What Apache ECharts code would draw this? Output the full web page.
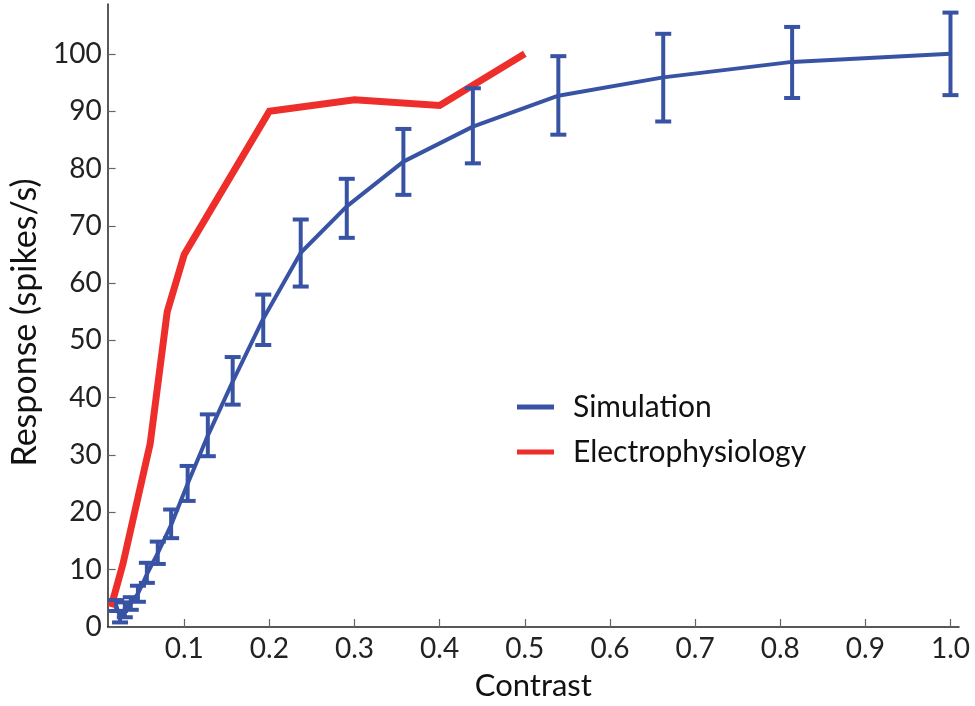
<!DOCTYPE html>
<html>
<head>
<meta charset="utf-8">
<script src="https://cdn.jsdelivr.net/npm/echarts@6/dist/echarts.min.js"></script>
<style>
  html, body { margin: 0; padding: 0; background: #fff; }
  #chart { width: 975px; height: 706px; }
</style>
</head>
<body>
<div id="chart"></div>
<script>
// ---- Data ----
const contrastSim = [0.02, 0.0246, 0.0302, 0.0372, 0.0456, 0.0561, 0.0689, 0.0846, 0.104, 0.1277, 0.1569, 0.1928, 0.2368, 0.2909, 0.3574, 0.439, 0.5394, 0.6626, 0.814, 1.0];
const responseSim = [3.7, 1.8, 3.0, 4.2, 5.8, 9.2, 12.9, 17.8, 25.0, 33.4, 42.8, 53.8, 65.3, 73.4, 81.2, 87.3, 92.7, 95.9, 98.6, 100];
const errLowSim  = [2.8, 0.8, 1.7, 3.0, 4.4, 7.7, 11.0, 15.5, 22.0, 29.8, 38.8, 49.2, 59.4, 67.9, 75.4, 80.9, 85.9, 88.2, 92.3, 92.8];
const errHighSim = [4.7, 2.8, 4.3, 5.2, 7.2, 11.2, 14.9, 20.5, 28.1, 37.1, 47.1, 58.0, 71.1, 78.2, 86.9, 94.0, 99.6, 103.5, 104.7, 107.2];

const contrastEphys = [0.014, 0.028, 0.06, 0.08, 0.1, 0.2, 0.3, 0.4, 0.5];
const responseEphys = [3.5, 11, 32, 55, 65, 90, 92, 91, 100];

const xTicks = [0.1, 0.2, 0.3, 0.4, 0.5, 0.6, 0.7, 0.8, 0.9, 1.0];
const yTicks = [0, 10, 20, 30, 40, 50, 60, 70, 80, 90, 100];

const seriesNames = ['Simulation', 'Electrophysiology'];

// ---- Styles ----
const BLUE = '#3853a4';
const RED = '#ee2e2b';
const FONT = 'Lato, "Open Sans", sans-serif';

const simData = contrastSim.map((c, i) => [c, responseSim[i]]);
const errData = contrastSim.map((c, i) => [c, errLowSim[i], errHighSim[i]]);
const ephysData = contrastEphys.map((c, i) => [c, responseEphys[i]]);

const chart = echarts.init(document.getElementById('chart'), null, { renderer: 'canvas' });

chart.setOption({
  animation: false,
  backgroundColor: '#ffffff',
  textStyle: { fontFamily: FONT },
  grid: { left: 106, right: 16, top: 4, bottom: 73, containLabel: false },
  legend: {
    orient: 'vertical',
    left: 517,
    top: 392,
    padding: 0,
    itemWidth: 37,
    itemHeight: 5,
    itemGap: 15,
    icon: 'rect',
    data: [
      { name: seriesNames[0], itemStyle: { color: BLUE } },
      { name: seriesNames[1], itemStyle: { color: RED } }
    ],
    textStyle: { fontFamily: FONT, fontSize: 30, color: '#111', lineHeight: 30, padding: [0, 0, 0, 14] }
  },
  xAxis: {
    type: 'value',
    min: 0.01,
    max: 1.01,
    name: 'Contrast',
    nameLocation: 'middle',
    nameGap: 43,
    nameTextStyle: { fontFamily: FONT, fontSize: 31, color: '#111' },
    splitLine: { show: false },
    axisLine: { show: true, onZero: false, lineStyle: { color: '#222', width: 1.5 } },
    axisTick: { show: true, inside: true, length: 8, customValues: xTicks, lineStyle: { color: '#666', width: 1.2 } },
    axisLabel: {
      customValues: xTicks,
      margin: 8,
      fontFamily: FONT, fontSize: 28, color: '#222',
      formatter: v => v.toFixed(1)
    }
  },
  yAxis: {
    type: 'value',
    min: 0,
    max: 108.7,
    name: 'Response (spikes/s)',
    nameLocation: 'middle',
    nameRotate: 90,
    nameGap: 61,
    nameTextStyle: { fontFamily: FONT, fontSize: 34, color: '#111', padding: [0, 14, 0, 0] },
    splitLine: { show: false },
    axisLine: { show: true, onZero: false, lineStyle: { color: '#222', width: 1.5 } },
    axisTick: { show: true, inside: true, length: 8, customValues: yTicks, lineStyle: { color: '#666', width: 1.2 } },
    axisLabel: {
      customValues: yTicks,
      margin: 6,
      fontFamily: FONT, fontSize: 28, color: '#222'
    }
  },
  series: [
    {
      name: seriesNames[1],
      type: 'line',
      data: ephysData,
      symbol: 'none',
      lineStyle: { color: RED, width: 7, cap: 'butt', join: 'miter' },
      itemStyle: { color: RED },
      z: 2
    },
    {
      name: seriesNames[0],
      type: 'line',
      data: simData,
      symbol: 'none',
      lineStyle: { color: BLUE, width: 4 },
      itemStyle: { color: BLUE },
      z: 3
    },
    {
      name: seriesNames[0] + ' error',
      type: 'custom',
      data: errData,
      encode: { x: 0, y: [1, 2] },
      clip: false,
      z: 4,
      renderItem: function (params, api) {
        const x = api.value(0);
        const lo = api.value(1);
        const hi = api.value(2);
        const pTop = api.coord([x, hi]);
        const pBot = api.coord([x, lo]);
        const hw = 8;
        const style = { stroke: BLUE, lineWidth: 4, fill: null };
        return {
          type: 'group',
          children: [
            { type: 'line', shape: { x1: pTop[0], y1: pTop[1], x2: pBot[0], y2: pBot[1] }, style: style },
            { type: 'line', shape: { x1: pTop[0] - hw, y1: pTop[1], x2: pTop[0] + hw, y2: pTop[1] }, style: style },
            { type: 'line', shape: { x1: pBot[0] - hw, y1: pBot[1], x2: pBot[0] + hw, y2: pBot[1] }, style: style }
          ]
        };
      }
    }
  ]
});
</script>
</body>
</html>
